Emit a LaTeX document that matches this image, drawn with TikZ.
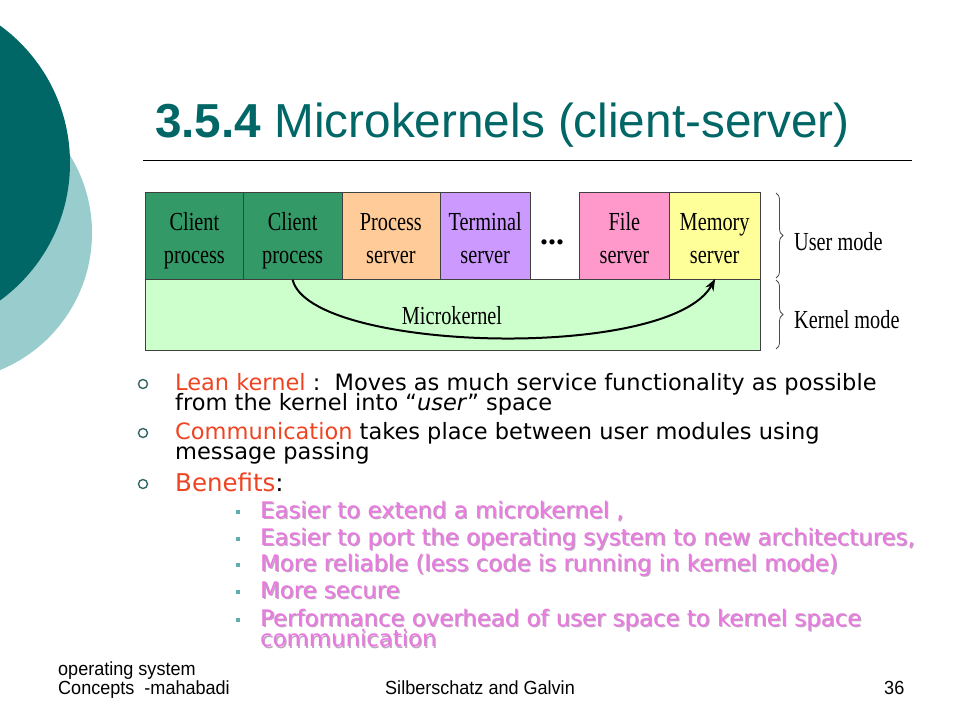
\documentclass[tikz,border=0pt]{standalone}
\usepackage{fontspec}
\setmainfont{DejaVu Sans}
\newfontfamily\titlefont{Liberation Sans}
\newfontfamily\boxfont[FakeStretch=0.78]{Liberation Serif}
\newfontfamily\dotfont{Liberation Serif}
\newfontfamily\footfont[FakeStretch=0.95]{Liberation Sans}
\usetikzlibrary{decorations.pathreplacing,arrows.meta}
\definecolor{slideteal}{HTML}{006666}
\definecolor{lightteal}{HTML}{99CCCC}
\definecolor{cpgreen}{HTML}{339966}
\definecolor{pspeach}{HTML}{FFCC99}
\definecolor{tslav}{HTML}{CC99FF}
\definecolor{fspink}{HTML}{FF99CC}
\definecolor{msyellow}{HTML}{FFFF99}
\definecolor{kgreen}{HTML}{CCFFCC}
\definecolor{orred}{HTML}{EE4422}
\definecolor{subpink}{HTML}{EB78E1}
\definecolor{pinkshadow}{HTML}{BFA3BF}
\definecolor{bulletcol}{HTML}{336666}
\definecolor{sqcol}{HTML}{5FAFAF}
\newcommand\shtext[1]{\rlap{\kern1.3pt\raisebox{-1.3pt}{\color{pinkshadow}#1}}#1}
\newcommand\twoline[2]{\rule{0pt}{29pt}#1\\#2\rule[-6pt]{0pt}{6pt}}
\tikzset{
  cell/.style={draw=black!75, line width=0.8pt, inner sep=0pt, anchor=north west,
    align=center, font=\boxfont\fontsize{26}{33}\selectfont},
  lbl/.style={inner sep=0pt, font=\boxfont\fontsize{26}{33}\selectfont},
  txt/.style={inner sep=0pt, anchor=base west, font=\fontsize{22.5}{22.5}\selectfont},
  subtxt/.style={inner sep=0pt, anchor=base west, text=subpink, font=\fontsize{22.8}{22.8}\selectfont},
  ring/.style={circle, draw=bulletcol, line width=1.4pt, inner sep=0pt, minimum size=9pt},
  sq/.style={fill=sqcol, inner sep=0pt, minimum size=4.5pt},
  foot/.style={inner sep=0pt, anchor=base west, font=\footfont\fontsize{19}{19}\selectfont},
  bracestyle/.style={decorate, decoration={brace, amplitude=7pt}, line width=0.8pt, black!70}
}
\begin{document}
\begin{tikzpicture}[x=1pt,y=-1pt]
\useasboundingbox (0,0) rectangle (960,720);
\begin{scope}
\clip (0,0) rectangle (960,720);
\fill[lightteal] (-56,233) circle (148pt);
\fill[slideteal] (-100,163) circle (170pt);
\end{scope}
% title
\node[anchor=base west, inner sep=0pt, text=slideteal, font=\titlefont\fontsize{47.7}{47.7}\selectfont] (title) at (155,137) {\textbf{3.5.4} Microkernels (client-server)};
\coordinate (ruleL) at (143,160.5);
\coordinate (ruleR) at (912,160.5);
\draw[line width=0.8pt] (ruleL) -- (ruleR);
% diagram
\node[cell, fill=kgreen, minimum width=615pt, minimum height=70.5pt] (kern) at (145,279) {};
\node[cell, fill=cpgreen, minimum width=98pt, minimum height=87pt] (cp1) at (145,192) {\twoline{Client}{process}};
\node[cell, fill=cpgreen, minimum width=98.5pt, minimum height=87pt] (cp2) at (243,192) {\twoline{Client}{process}};
\node[cell, fill=pspeach, minimum width=98pt, minimum height=87pt] (ps) at (341.5,192) {\twoline{Process}{server}};
\node[cell, fill=tslav, minimum width=90.5pt, minimum height=87pt] (ts) at (439.5,192) {\twoline{Terminal}{server}};
\node[cell, fill=fspink, minimum width=90pt, minimum height=87pt] (fs) at (579,192) {\twoline{File}{server}};
\node[cell, fill=msyellow, minimum width=90.5pt, minimum height=87pt] (ms) at (669,192) {\twoline{Memory}{server}};
\node[inner sep=0pt, anchor=base, font=\dotfont\bfseries\fontsize{32}{32}\selectfont] (dots) at (552,244.5) {...};
\node[lbl, anchor=base] (mk) at (452,324) {Microkernel};
\draw[line width=2pt, -{Stealth[length=12pt,width=9pt]}] (cp2.south) .. controls (310,352) and (670,362) .. ([xshift=0.5pt,yshift=1pt]ms.south);
% braces
\coordinate (bu1) at (776,193);
\coordinate (bu2) at (776,278);
\coordinate (bk1) at (776,280);
\coordinate (bk2) at (776,349);
\draw[bracestyle] (bu1) -- (bu2);
\draw[bracestyle] (bk1) -- (bk2);
\node[lbl, anchor=base west] (um) at (794,250) {User mode};
\node[lbl, anchor=base west] (km) at (794,328) {Kernel mode};
% bullets
\node[ring] (r1) at (143,384) {};
\node[txt] (l1a) at (175,390) {{\color{orred}Lean kernel} :\ \ Moves as much service functionality as possible};
\node[txt] (l1b) at (175,410.7) {from the kernel into “\textit{user}” space};
\node[ring] (r2) at (143,433) {};
\node[txt] (l2a) at (175,439) {{\color{orred}Communication} takes place between user modules using};
\node[txt] (l2b) at (175,459.7) {message passing};
\node[ring] (r3) at (143,484) {};
\node[txt, font=\fontsize{24.5}{24.5}\selectfont] (l3) at (175,491) {{\color{orred}Benefits}:};
% sub bullets
\node[sq] (s1) at (238,512) {};
\node[subtxt] (t1) at (260,518) {\shtext{Easier to extend a microkernel ,}};
\node[sq] (s2) at (238,539) {};
\node[subtxt] (t2) at (260,545) {\shtext{Easier to port the operating system to new architectures,}};
\node[sq] (s3) at (238,565) {};
\node[subtxt] (t3) at (260,571) {\shtext{More reliable (less code is running in kernel mode)}};
\node[sq] (s4) at (238,592) {};
\node[subtxt] (t4) at (260,598) {\shtext{More secure}};
\node[sq] (s5) at (238,620) {};
\node[subtxt] (t5) at (260,626) {\shtext{Performance overhead of user space to kernel space}};
\node[subtxt] (t6) at (260,646.7) {\shtext{communication}};
% footer
\node[foot] (f1) at (58,675) {operating system};
\node[foot] (f2) at (58,694) {Concepts\ \ -mahabadi};
\node[foot] (f3) at (385,694) {Silberschatz and Galvin};
\node[foot] (f4) at (884,694) {36};
\end{tikzpicture}
\end{document}
